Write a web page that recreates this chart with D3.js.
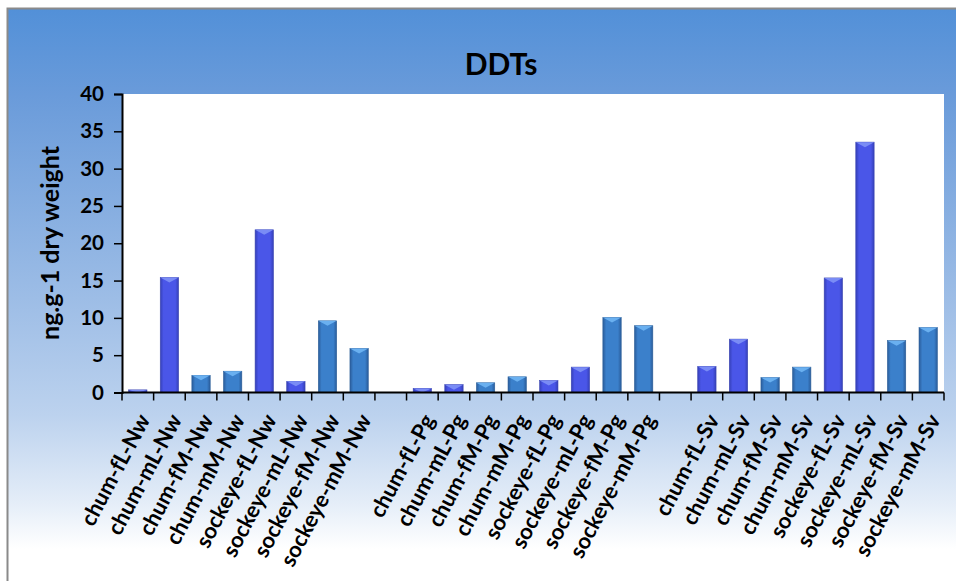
<!DOCTYPE html>
<html>
<head>
<meta charset="utf-8">
<script src="https://cdn.jsdelivr.net/npm/d3@7/dist/d3.min.js"></script>
<style>
html,body{margin:0;padding:0;background:#fff;}
svg{display:block;}
text{font-family:Lato,"Open Sans",sans-serif;font-weight:bold;fill:#000;}
</style>
</head>
<body>
<div id="chart"></div>
<script>
const title = "DDTs";
const yTitle = "ng.g-1 dry weight";
const categories = [
  "chum-fL-Nw","chum-mL-Nw","chum-fM-Nw","chum-mM-Nw","sockeye-fL-Nw","sockeye-mL-Nw","sockeye-fM-Nw","sockeye-mM-Nw",
  "gap1",
  "chum-fL-Pg","chum-mL-Pg","chum-fM-Pg","chum-mM-Pg","sockeye-fL-Pg","sockeye-mL-Pg","sockeye-fM-Pg","sockeye-mM-Pg",
  "gap2",
  "chum-fL-Sv","chum-mL-Sv","chum-fM-Sv","chum-mM-Sv","sockeye-fL-Sv","sockeye-mL-Sv","sockeye-fM-Sv","sockeye-mM-Sv"
];
const values = [
  0.35, 15.4, 2.3, 2.85, 21.8, 1.5, 9.6, 5.9,
  null,
  0.55, 1.05, 1.3, 2.1, 1.6, 3.4, 10.05, 8.95,
  null,
  3.5, 7.15, 2.0, 3.4, 15.35, 33.55, 6.95, 8.7
];
const yTicks = [0,5,10,15,20,25,30,35,40];

const W = 956, H = 581;
const plot = {left:122, right:944, top:94, bottom:392.5};

const svg = d3.select("#chart").append("svg").attr("width",W).attr("height",H);
const defs = svg.append("defs");

const bg = defs.append("linearGradient").attr("id","bg").attr("x1",0).attr("y1",0).attr("x2",0).attr("y2",1);
[[0,"#5290d8"],[0.15,"#6a9bda"],[0.5,"#9dbde6"],[0.7,"#bcd2ee"],[0.85,"#e4edf8"],[0.93,"#ffffff"],[1,"#ffffff"]]
  .forEach(([o,c])=>bg.append("stop").attr("offset",o).attr("stop-color",c));

function barGrad(id, edge, mid){
  const g = defs.append("linearGradient").attr("id",id).attr("x1",0).attr("y1",0).attr("x2",1).attr("y2",0);
  [[0,edge],[0.18,mid],[0.82,mid],[1,edge]].forEach(([o,c])=>g.append("stop").attr("offset",o).attr("stop-color",c));
}
barGrad("gL","#3540b8","#4a56e8");
barGrad("gM","#2a5c9a","#3b80cb");

// background panel
svg.append("rect").attr("x",7.5).attr("y",8.5).attr("width",W).attr("height",H)
  .attr("fill","url(#bg)").attr("stroke","#8a8a8a").attr("stroke-width",2);

// plot area
svg.append("rect").attr("x",plot.left).attr("y",plot.top)
  .attr("width",plot.right-plot.left).attr("height",plot.bottom-plot.top).attr("fill","#fff");

const x = d3.scaleBand().domain(categories).range([plot.left,plot.right]).paddingInner(0.42).paddingOuter(0.21);
const y = d3.scaleLinear().domain([0,40]).range([plot.bottom,plot.top]);

// bars
const data = categories.map((c,i)=>({c, v:values[i]})).filter(d=>d.v!==null);
const isL = d => /-[fm]L-/.test(d.c);
const bw = x.bandwidth();
const bars = svg.append("g").selectAll("g").data(data).join("g");
bars.append("rect")
  .attr("x",d=>x(d.c)).attr("y",d=>y(d.v))
  .attr("width",bw).attr("height",d=>y(0)-y(d.v))
  .attr("fill",d=>isL(d)?"url(#gL)":"url(#gM)")
  .attr("stroke",d=>isL(d)?"#3a44b0":"#2d5f98").attr("stroke-width",0.6);
// top bevel triangle highlight
bars.append("path")
  .attr("d",d=>{
    const x0=x(d.c), y0=y(d.v), h=Math.min(5, y(0)-y(d.v));
    return `M${x0},${y0}L${x0+bw},${y0}L${x0+bw/2},${y0+h}Z`;
  })
  .attr("fill",d=>isL(d)?"#7a8cf5":"#6ab0f0");

// y axis
const yAxis = svg.append("g").attr("transform",`translate(${plot.left},0)`)
  .call(d3.axisLeft(y).tickValues(yTicks).tickSize(8).tickPadding(10));
yAxis.select(".domain").attr("stroke","#000").attr("stroke-width",2);
yAxis.selectAll(".tick line").attr("stroke","#000").attr("stroke-width",1.5);
yAxis.selectAll(".tick text").style("font-size","20.5px").style("font-family","Lato,sans-serif").style("font-weight","bold").attr("fill","#000");

// x axis baseline and ticks at slot boundaries
const step = x.step();
const boundaries = categories.map(c=>x(c) - (step-bw)/2).concat([plot.right]);
svg.append("line").attr("x1",plot.left).attr("x2",plot.right).attr("y1",y(0)).attr("y2",y(0))
  .attr("stroke","#000").attr("stroke-width",2);
svg.append("g").selectAll("line").data(boundaries).join("line")
  .attr("x1",d=>d).attr("x2",d=>d).attr("y1",y(0)).attr("y2",y(0)+8)
  .attr("stroke","#000").attr("stroke-width",1.5);

// x labels
svg.append("g").selectAll("text").data(categories.filter(c=>!c.startsWith("gap"))).join("text")
  .attr("transform",c=>`translate(${x(c)+bw/2+13},${y(0)+27}) rotate(-62)`)
  .attr("text-anchor","end")
  .style("font-size","22px")
  .text(c=>c);

// title
svg.append("text").attr("x",501).attr("y",75).attr("text-anchor","middle")
  .style("font-size","30px").text(title);

// y title
svg.append("text").attr("transform",`translate(59,243) rotate(-90)`).attr("text-anchor","middle")
  .style("font-size","25px").text(yTitle);
</script>
</body>
</html>
